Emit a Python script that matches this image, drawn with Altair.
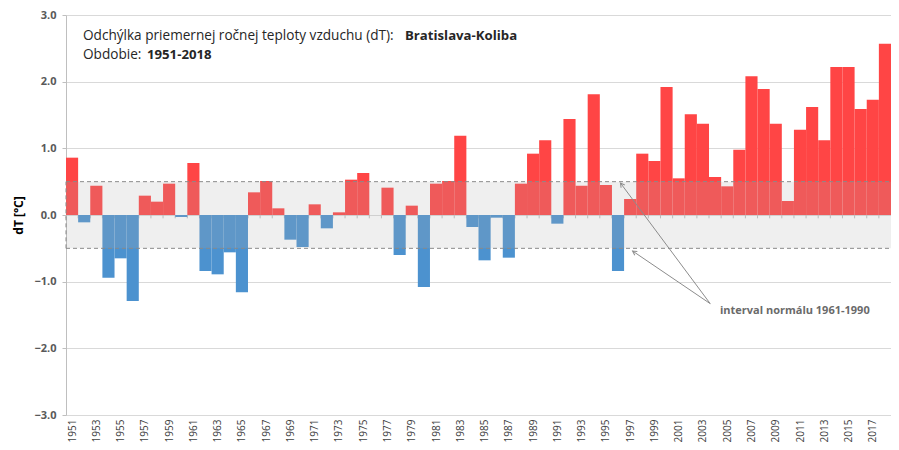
import altair as alt
import pandas as pd
import numpy as np

years = list(range(1951, 2019))
dT = [0.86, -0.11, 0.44, -0.94, -0.65, -1.29, 0.29, 0.20, 0.47, -0.03,
      0.78, -0.84, -0.89, -0.56, -1.16, 0.34, 0.51, 0.10, -0.37, -0.48,
      0.16, -0.20, 0.04, 0.53, 0.63, 0.00, 0.41, -0.60, 0.14, -1.08,
      0.47, 0.51, 1.19, -0.18, -0.68, -0.04, -0.64, 0.47, 0.92, 1.12,
      -0.13, 1.44, 0.44, 1.81, 0.45, -0.84, 0.24, 0.92, 0.81, 1.92,
      0.55, 1.51, 1.37, 0.57, 0.43, 0.98, 2.08, 1.89, 1.37, 0.21,
      1.28, 1.62, 1.12, 2.22, 2.22, 1.59, 1.73, 2.57]

tick_years = list(range(1951, 2018, 2))
y_ticks = [-3, -2, -1, 0, 1, 2, 3]
normal_band = [-0.5, 0.5]

title_line1 = "Odchýlka priemernej ročnej teploty vzduchu (dT):"
title_line1_bold = "Bratislava-Koliba"
title_line2 = "Obdobie:"
title_line2_bold = "1951-2018"
annot_text = "interval normálu 1961-1990"

# annotation arrows (data coords): start point and two tips
arrow_start = (2003.6, -1.33)
arrow_tips = [(1996.2, 0.48), (1997.2, -0.54)]
annot_pos = (2004.4, -1.44)

W, H = 825, 400
x0, x1 = 1950.5, 2018.5
y0, y1 = -3, 3

df = pd.DataFrame({"year": years, "dT": dT})
df["xa"] = df["year"] - 0.5
df["xb"] = df["year"] + 0.5
df["sign"] = np.where(df["dT"] >= 0, "pos", "neg")
df["zero"] = 0.0

xs = alt.Scale(domain=[x0, x1], nice=False, zero=False)
ys = alt.Scale(domain=[y0, y1], nice=False, zero=False)

x_axis = alt.Axis(values=tick_years, format="d", labelAngle=-90, grid=False,
                  domain=False, ticks=False, title=None, labelFontSize=10,
                  labelColor="#404040", labelPadding=4, labelFont="Open Sans",
                  labelOverlap=False)
y_axis = alt.Axis(values=y_ticks, format=".1f", title="dT [°C]", grid=True,
                  gridColor="#d9d9d9", domainColor="#bfbfbf", tickColor="#bfbfbf",
                  tickSize=4, labelPadding=6, labelFontSize=11, labelFontWeight="bold",
                  labelColor="#595959", titleFontSize=12, titleFontWeight="bold",
                  titleColor="#000000", titlePadding=8, labelFont="Open Sans",
                  titleFont="Open Sans")

def X(f):
    return alt.X(f, scale=xs, axis=x_axis)

def Y(f):
    return alt.Y(f, scale=ys, axis=y_axis)

# small category ticks below the zero line
ticks_df = pd.DataFrame({"x": [y - 0.5 for y in years], "y": 0.0, "y2": -0.05})
zero_ticks = alt.Chart(ticks_df).mark_rule(color="#bfbfbf", strokeWidth=1).encode(
    x=X("x:Q"), y=Y("y:Q"), y2="y2:Q",
)

bars = alt.Chart(df).mark_rect(stroke=None).encode(
    x=X("xa:Q"), x2="xb:Q", y=Y("dT:Q"), y2="zero:Q",
    color=alt.Color("sign:N", scale=alt.Scale(domain=["pos", "neg"],
                                              range=["#ff4545", "#4c92cf"]), legend=None),
)

band_df = pd.DataFrame({"xa": [x0], "xb": [x1], "lo": [normal_band[0]], "hi": [normal_band[1]]})
band = alt.Chart(band_df).mark_rect(color="#b0b0b0", opacity=0.2).encode(
    x=X("xa:Q"), x2="xb:Q", y=Y("lo:Q"), y2="hi:Q",
)

hl_df = pd.DataFrame({"xa": [x0, x0], "xb": [x1, x1], "y": normal_band})
hlines = alt.Chart(hl_df).mark_rule(color="#8a8a8a", strokeDash=[4, 3], strokeWidth=1).encode(
    x=X("xa:Q"), x2="xb:Q", y=Y("y:Q"),
)
vl_df = pd.DataFrame({"x": [x0], "lo": [normal_band[0]], "hi": [normal_band[1]]})
vline = alt.Chart(vl_df).mark_rule(color="#8a8a8a", strokeDash=[4, 3], strokeWidth=1).encode(
    x=X("x:Q"), y=Y("lo:Q"), y2="hi:Q",
)

px_x = W / (x1 - x0)
px_y = H / (y1 - y0)
arr_rows = []
for tx, ty in arrow_tips:
    dx = (tx - arrow_start[0]) * px_x
    dy = -(ty - arrow_start[1]) * px_y
    ang = (np.degrees(np.arctan2(dx, -dy)) + 360) % 360
    arr_rows.append({"sx": arrow_start[0], "sy": arrow_start[1], "tx": tx, "ty": ty, "ang": ang})
arr_df = pd.DataFrame(arr_rows)

arrow_lines = alt.Chart(arr_df).mark_rule(color="#8c8c8c", strokeWidth=1).encode(
    x=X("sx:Q"), y=Y("sy:Q"), x2="tx:Q", y2="ty:Q",
)
arrow_heads = alt.Chart(arr_df).mark_point(
    shape="M -0.55 1 L 0 0 L 0.55 1", filled=False, color="#8c8c8c", strokeWidth=1,
    size=70, opacity=1,
).encode(
    x=X("tx:Q"), y=Y("ty:Q"), angle=alt.Angle("ang:Q", scale=None),
)

annot = alt.Chart(pd.DataFrame({"x": [annot_pos[0]], "y": [annot_pos[1]], "t": [annot_text]})).mark_text(
    align="left", baseline="middle", fontSize=11, fontWeight="bold", color="#6a6a6a",
    font="Open Sans",
).encode(x=X("x:Q"), y=Y("y:Q"), text="t:N")

def label(txt, px, py, bold, size):
    return alt.Chart(pd.DataFrame({"t": [txt]})).mark_text(
        align="left", baseline="middle", fontSize=size,
        fontWeight="bold" if bold else "normal", color="#262626", font="Open Sans",
    ).encode(x=alt.value(px), y=alt.value(py), text="t:N")

t1 = label(title_line1, 17, 21, False, 13.6)
t1b = label(title_line1_bold, 339, 21, True, 13.2)
t2 = label(title_line2, 17, 40, False, 13.6)
t2b = label(title_line2_bold, 81, 40, True, 13.2)

chart = alt.layer(
    zero_ticks, bars, band, hlines, vline, arrow_lines, arrow_heads, annot, t1, t1b, t2, t2b
).properties(
    width=W, height=H,
    autosize=alt.AutoSizeParams(type="none"),
    padding={"left": 58, "top": 7, "right": 0, "bottom": 27},
).configure(
    background="white",
    view=alt.ViewConfig(stroke=None),
    axisX=alt.AxisConfig(labelOverlap=False),
)

chart.save("out.html", embed_options={"renderer": "svg", "actions": False})
